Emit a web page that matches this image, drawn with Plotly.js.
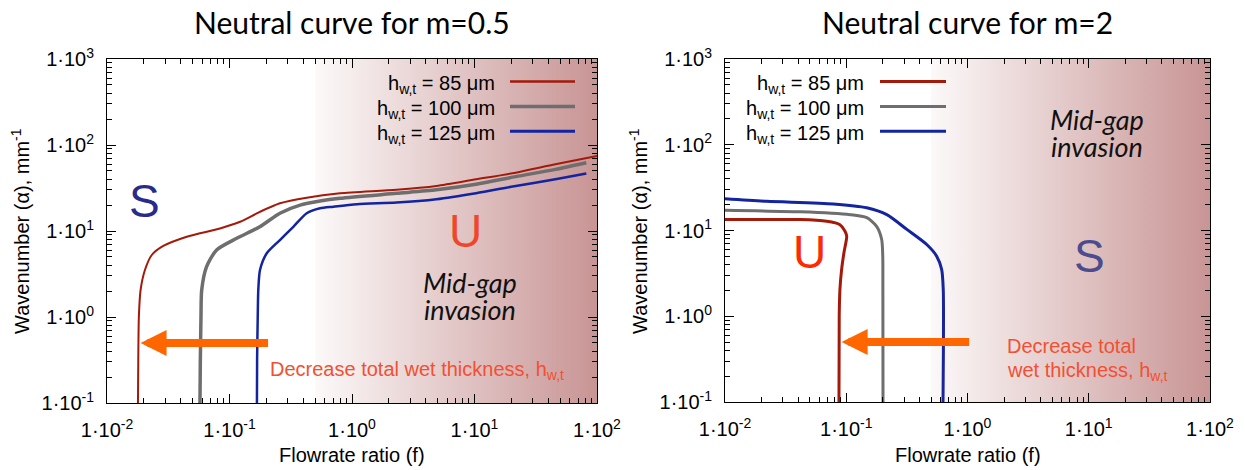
<!DOCTYPE html>
<html><head><meta charset="utf-8">
<script src="https://cdn.plot.ly/plotly-3.0.1.min.js"></script>
<style>html,body{margin:0;padding:0;background:#fff}#chart{width:1245px;height:470px}</style>
</head><body><div id="chart"></div>
<script>
// ---------- data ----------
const seriesNames = ['h<sub>w,t</sub> = 85 μm', 'h<sub>w,t</sub> = 100 μm', 'h<sub>w,t</sub> = 125 μm'];

// Left panel: m = 0.5
const m05_h85_f = [0.0179, 0.0180, 0.0182, 0.0188, 0.0204, 0.0232, 0.0288, 0.0448, 0.0836, 0.122, 0.177, 0.258, 0.427, 0.798, 2.31, 4.88, 10.3, 21.7, 45.7, 100];
const m05_h85_a = [0.1, 0.316, 1.0, 2.06, 3.52, 5.26, 6.70, 8.59, 10.7, 12.8, 16.7, 21.0, 24.4, 27.4, 30.1, 33.4, 39.9, 47.6, 59.6, 74.3];
const m05_h100_f = [0.0574, 0.0578, 0.0585, 0.0593, 0.065, 0.0785, 0.1146, 0.177, 0.258, 0.377, 0.548, 0.798, 2.31, 4.88, 10.3, 21.7, 45.7, 81.8];
const m05_h100_a = [0.1, 0.316, 1.0, 2.06, 3.85, 6.01, 8.22, 11.2, 16.1, 20.0, 22.3, 24.0, 27.4, 30.1, 34.9, 42.9, 52.1, 62.2];
const m05_h125_f = [0.1675, 0.168, 0.170, 0.1718, 0.1774, 0.2014, 0.258, 0.332, 0.427, 0.548, 0.703, 1.10, 2.31, 4.88, 10.3, 21.7, 45.7, 81.8];
const m05_h125_a = [0.1, 0.316, 1.0, 2.06, 3.52, 5.51, 7.85, 11.2, 16.1, 18.4, 19.2, 20.5, 21.4, 23.4, 27.5, 33.4, 39.9, 46.5];

// Right panel: m = 2
const m2_h85_f = [0.01, 0.0416, 0.069, 0.0887, 0.0977, 0.1009, 0.0957, 0.0916, 0.0887, 0.0875, 0.0871];
const m2_h85_a = [13.4, 13.4, 12.8, 11.7, 9.82, 8.59, 5.51, 3.52, 2.06, 1.0, 0.1];
const m2_h100_f = [0.01, 0.0416, 0.1074, 0.1476, 0.178, 0.196, 0.200, 0.2005, 0.201];
const m2_h100_a = [17.2, 16.5, 15.3, 14.1, 11.2, 7.85, 5.02, 2.06, 0.1];
const m2_h125_f = [0.01, 0.0221, 0.0782, 0.1476, 0.216, 0.316, 0.461, 0.557, 0.612, 0.631, 0.628];
const m2_h125_a = [23.4, 21.9, 20.4, 18.4, 15.3, 10.3, 6.87, 5.02, 3.52, 2.06, 0.1];

// Shaded "mid-gap invasion" region
const shadeFrom = 0.5, shadeTo = 100;
const alphaMin = 0.1, alphaMax = 1000;

// Tick labels
const xTickVals = [0.01, 0.1, 1, 10, 100];
const xTickText = ['1·10<sup>-2</sup>', '1·10<sup>-1</sup>', '1·10<sup>0</sup>', '1·10<sup>1</sup>', '1·10<sup>2</sup>'];
const yTickVals = [0.1, 1, 10, 100, 1000];
const yTickText = ['1·10<sup>-1</sup>', '1·10<sup>0</sup>', '1·10<sup>1</sup>', '1·10<sup>2</sup>', '1·10<sup>3</sup>'];

// ---------- styling ----------
const W = 1245, H = 470;
const px = v => v / W, py = v => 1 - v / H;
const FONT = '"Liberation Sans", Arial, Helvetica, sans-serif';
const GILL = 'Lato, "Open Sans", sans-serif';
const cRed = '#a31a0a', cGray = '#6e6e6e', cBlue = '#1224a0';

function minorVals(lo, hi) {
  const v = [];
  for (let k = lo; k < hi; k++) for (let m = 2; m <= 9; m++) v.push(m * Math.pow(10, k));
  return v;
}

function axisX(domain, anchor) {
  return {
    type: 'log', range: [-2, 2], domain: domain, anchor: anchor,
    tickmode: 'array', tickvals: xTickVals, ticktext: xTickText,
    ticks: 'inside', ticklen: 9, tickwidth: 1, tickcolor: '#000',
    showline: true, linecolor: '#000', linewidth: 1, mirror: 'ticks',
    showgrid: false, zeroline: false, ticklabelstandoff: 9,
    tickfont: {family: FONT, size: 20, color: '#000'},
    minor: {tickmode: 'array', tickvals: minorVals(-2, 2), ticks: 'inside', ticklen: 5, tickwidth: 1, tickcolor: '#000', showgrid: false}
  };
}
function axisY(domain, anchor) {
  return {
    type: 'log', range: [-1, 3], domain: domain, anchor: anchor,
    tickmode: 'array', tickvals: yTickVals, ticktext: yTickText,
    ticks: 'inside', ticklen: 9, tickwidth: 1, tickcolor: '#000',
    showline: true, linecolor: '#000', linewidth: 1, mirror: 'ticks',
    showgrid: false, zeroline: false, ticklabelstandoff: 8,
    tickfont: {family: FONT, size: 20, color: '#000'},
    minor: {tickmode: 'array', tickvals: minorVals(-1, 3), ticks: 'inside', ticklen: 5, tickwidth: 1, tickcolor: '#000', showgrid: false}
  };
}

function curve(xs, ys, color, width, xa, ya) {
  return {x: xs, y: ys, xaxis: xa, yaxis: ya, type: 'scatter', mode: 'lines',
    line: {color: color, width: width, shape: 'spline', smoothing: 0.7},
    hoverinfo: 'skip', showlegend: false};
}
function shade(xa, ya) {
  return {x: [shadeFrom, shadeTo, shadeTo, shadeFrom, shadeFrom],
    y: [alphaMin, alphaMin, alphaMax, alphaMax, alphaMin],
    xaxis: xa, yaxis: ya, type: 'scatter', mode: 'lines', fill: 'toself',
    line: {width: 0, color: 'rgba(0,0,0,0)'},
    fillgradient: {type: 'horizontal', colorscale: [[0, 'rgba(150,50,50,0.03)'], [1, 'rgba(150,50,50,0.52)']]},
    hoverinfo: 'skip', showlegend: false};
}

const data = [
  shade('x', 'y'),
  curve(m05_h85_f, m05_h85_a, cRed, 2, 'x', 'y'),
  curve(m05_h100_f, m05_h100_a, cGray, 3.5, 'x', 'y'),
  curve(m05_h125_f, m05_h125_a, cBlue, 2.5, 'x', 'y'),
  curve(m2_h85_f, m2_h85_a, cRed, 3, 'x2', 'y2'),
  curve(m2_h100_f, m2_h100_a, cGray, 3, 'x2', 'y2'),
  curve(m2_h125_f, m2_h125_a, cBlue, 3, 'x2', 'y2'),
  shade('x2', 'y2')
];

const ann = [];
function txt(text, x, y, size, color, opts) {
  ann.push(Object.assign({text: text, x: px(x), y: py(y), xref: 'paper', yref: 'paper',
    showarrow: false, xanchor: 'center', yanchor: 'middle',
    font: {family: FONT, size: size, color: color}}, opts || {}));
}
// titles
txt('Neutral curve for m=0.5', 352, 22, 30, '#000', {font: {family: GILL, size: 30, color: '#000'}});
txt('Neutral curve for m=2', 967.5, 22, 30, '#000', {font: {family: GILL, size: 30, color: '#000'}});
// axis titles
txt('Flowrate ratio (f)', 352, 455, 20, '#000');
txt('Flowrate ratio (f)', 967.5, 455, 20, '#000');
txt('Wavenumber (α), mm<sup>-1</sup>', 20, 231, 20, '#000', {textangle: -90});
txt('Wavenumber (α), mm<sup>-1</sup>', 638, 231, 20, '#000', {textangle: -90});
// region letters
txt('S', 144, 201, 46, '#2a2a8c');
txt('U', 465, 231, 46, '#f0462a');
txt('U', 809.5, 252, 46, '#ff2a00');
txt('S', 1089, 256, 46, '#4b4b8e');
// mid-gap invasion
const gi = {family: GILL, size: 27, color: '#111', style: 'italic'};
txt('Mid-gap', 470, 282, 27, '#111', {font: gi});
txt('invasion', 470, 309, 27, '#111', {font: gi});
txt('Mid-gap', 1097, 120, 27, '#111', {font: gi});
txt('invasion', 1097, 146, 27, '#111', {font: gi});
// arrow notes
txt('Decrease total wet thickness, h<sub>w,t</sub>', 268, 370, 20, '#f25032', {xanchor: 'left'});
txt('Decrease total', 1005, 346, 20, '#f25032', {xanchor: 'left'});
txt('wet thickness, h<sub>w,t</sub>', 1005, 371, 20, '#f25032', {xanchor: 'left'});
// arrows (head at the left, tail offset in pixels)
ann.push({x: Math.log10(0.0188), y: Math.log10(0.5), xref: 'x', yref: 'y', ax: 129, ay: 0, text: '',
  showarrow: true, arrowhead: 2, arrowsize: 0.65, arrowwidth: 8, arrowcolor: '#ff6600'});
ann.push({x: Math.log10(0.0916), y: Math.log10(0.5), xref: 'x2', yref: 'y2', ax: 129, ay: 0, text: '',
  showarrow: true, arrowhead: 2, arrowsize: 0.65, arrowwidth: 8, arrowcolor: '#ff6600'});

// legends (text right-aligned, sample line to the right)
const legRows = [81.5, 106.4, 131.2];
const legColorsL = [cRed, cGray, cBlue], legWidthL = [2.5, 3.5, 3];
const shapes = [];
legRows.forEach((yy, i) => {
  txt(seriesNames[i], 497, yy, 20, '#000', {xanchor: 'right', yshift: -3});
  shapes.push({type: 'line', xref: 'paper', yref: 'paper', x0: px(510), x1: px(575), y0: py(yy), y1: py(yy),
    line: {color: legColorsL[i], width: legWidthL[i]}});
  txt(seriesNames[i], 866, yy, 20, '#000', {xanchor: 'right', yshift: -3});
  shapes.push({type: 'line', xref: 'paper', yref: 'paper', x0: px(880), x1: px(946), y0: py(yy), y1: py(yy),
    line: {color: legColorsL[i], width: 3}});
});

const layout = {
  width: W, height: H, margin: {l: 0, r: 0, t: 0, b: 0},
  paper_bgcolor: '#fff', plot_bgcolor: 'rgba(0,0,0,0)',
  font: {family: FONT, size: 20, color: '#000'},
  showlegend: false,
  xaxis: axisX([px(107), px(597)], 'y'),
  yaxis: axisY([1 - 403 / H, 1 - 59 / H], 'x'),
  xaxis2: axisX([px(725), px(1210)], 'y2'),
  yaxis2: axisY([1 - 402 / H, 1 - 59 / H], 'x2'),
  annotations: ann, shapes: shapes
};
Plotly.newPlot('chart', data, layout, {staticPlot: true, displayModeBar: false});
</script></body></html>
